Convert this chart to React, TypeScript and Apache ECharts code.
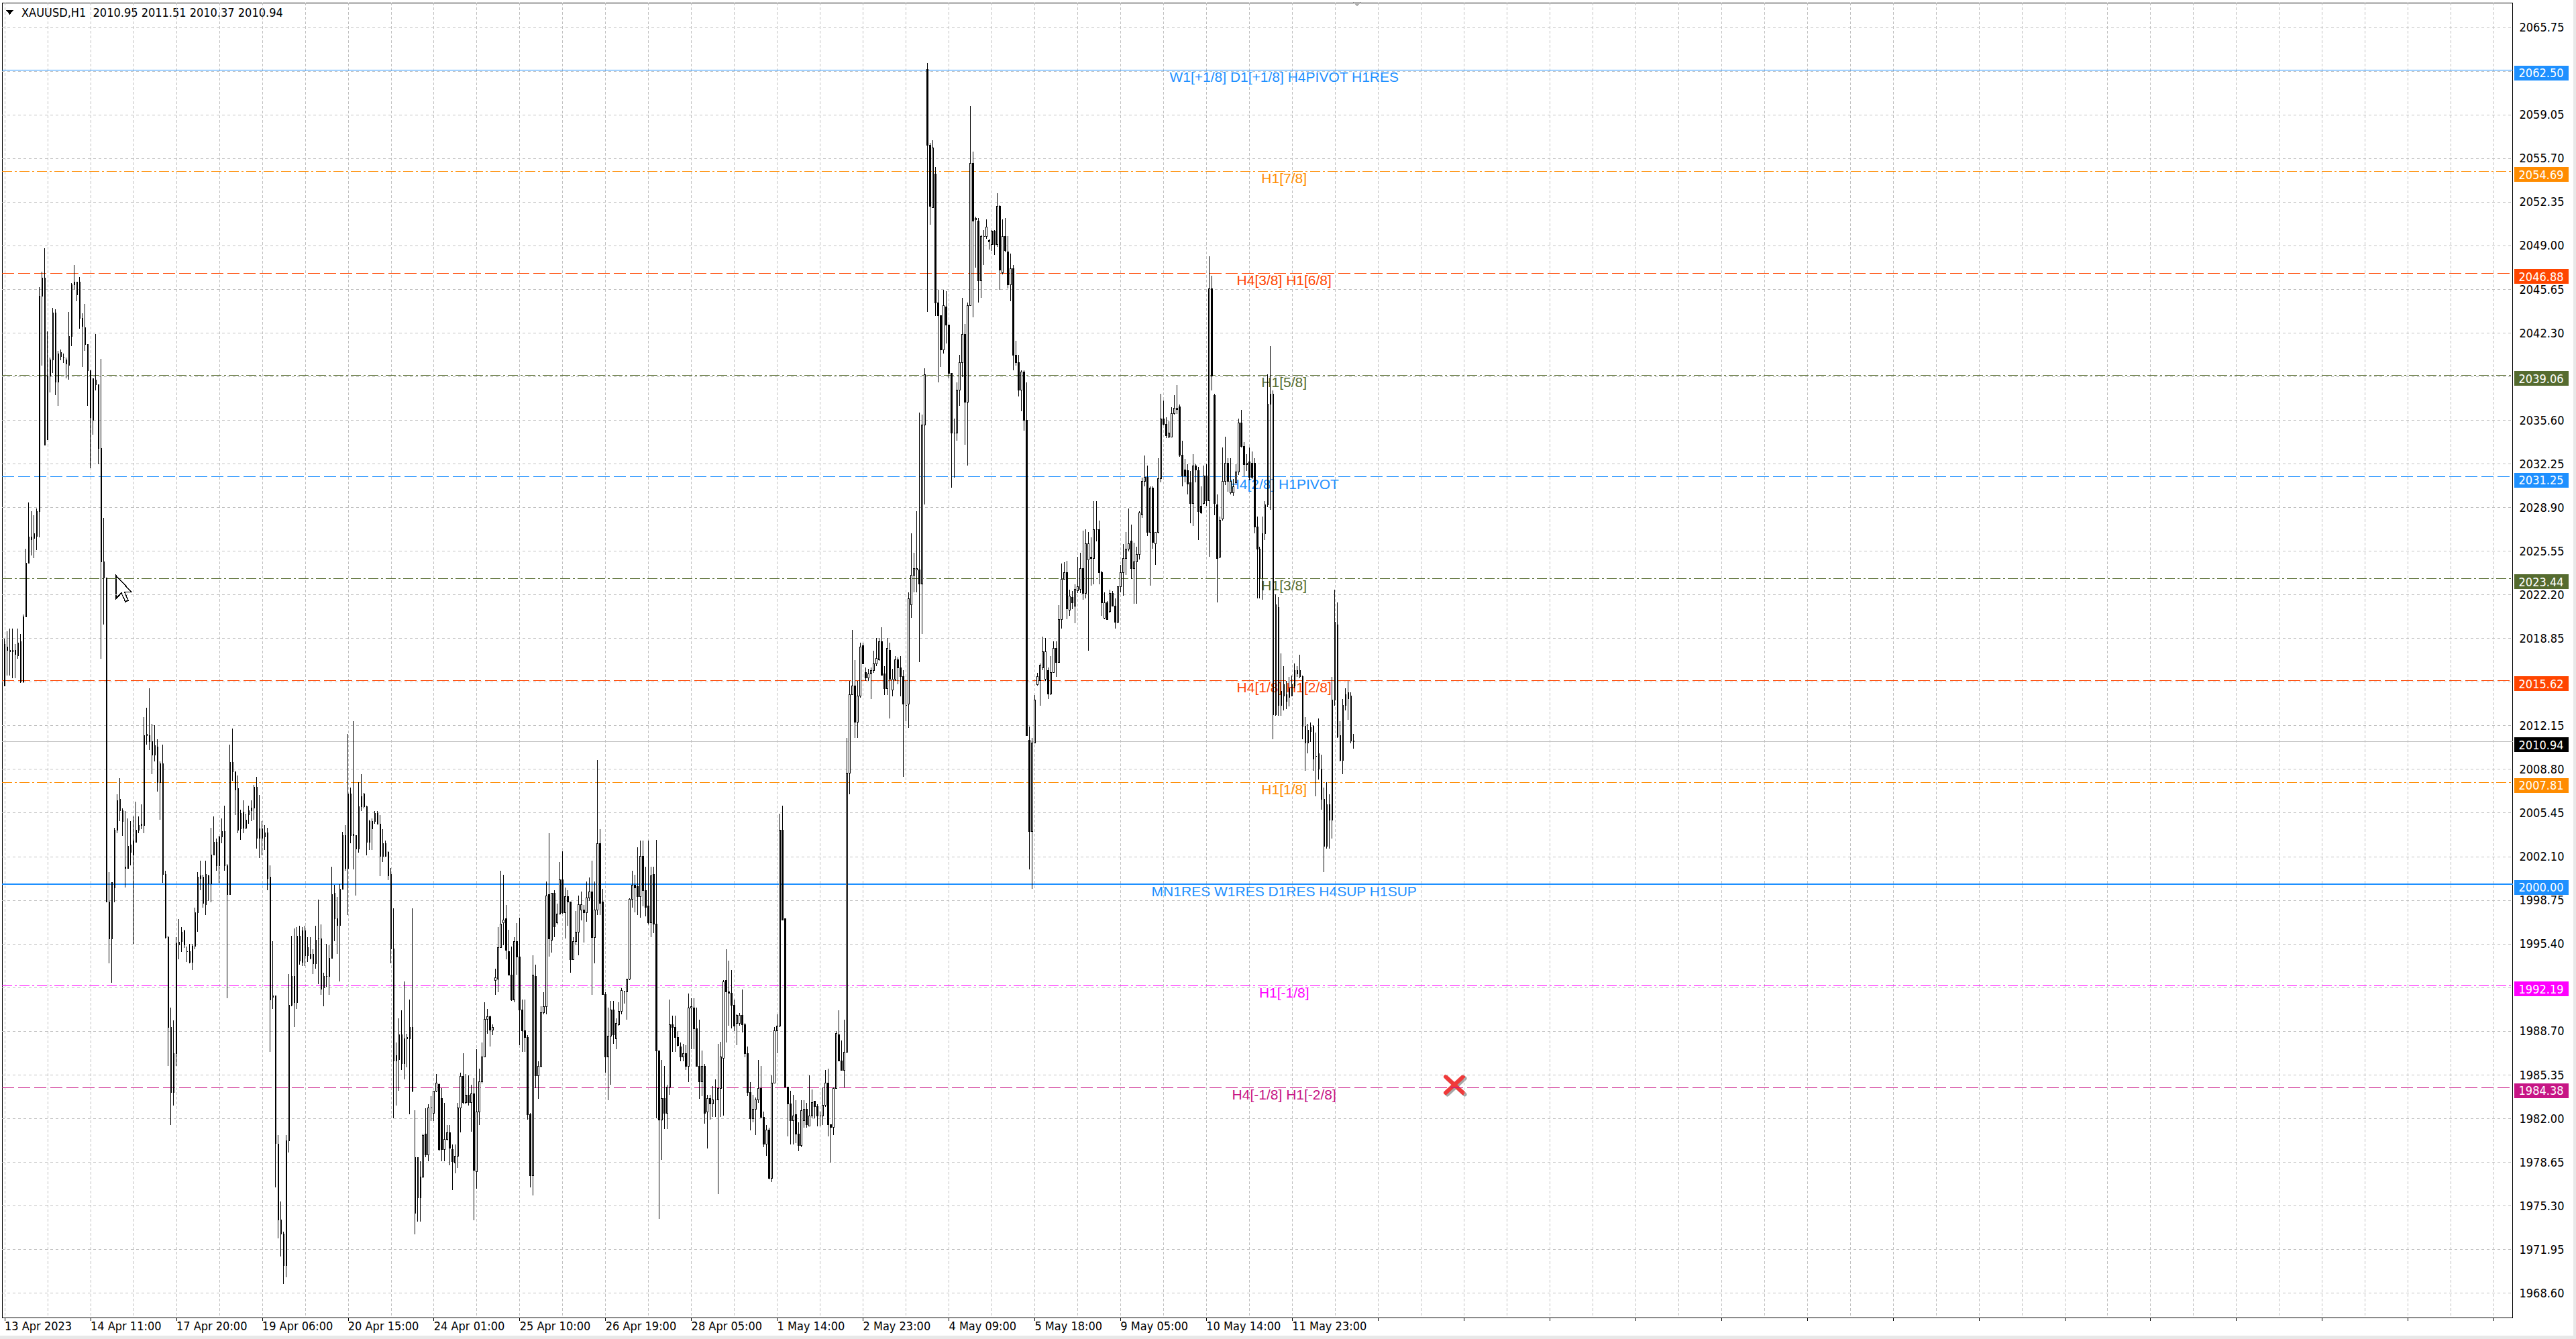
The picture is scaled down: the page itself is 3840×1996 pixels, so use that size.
import { useEffect, useRef } from "react";
import * as echarts from "echarts";

// ---------- data ----------
const SYMBOL = "XAUUSD,H1";

const DATE_LABELS = [
  "13 Apr 2023", "14 Apr 11:00", "17 Apr 20:00", "19 Apr 06:00", "20 Apr 15:00",
  "24 Apr 01:00", "25 Apr 10:00", "26 Apr 19:00", "28 Apr 05:00", "1 May 14:00",
  "2 May 23:00", "4 May 09:00", "5 May 18:00", "9 May 05:00", "10 May 14:00", "11 May 23:00",
];

const PRICE_TICKS = [
  "1968.60", "1971.95", "1975.30", "1978.65", "1982.00", "1985.35", "1988.70", "1992.05",
  "1995.40", "1998.75", "2002.10", "2005.45", "2008.80", "2012.15", "2015.50", "2018.85",
  "2022.20", "2025.55", "2028.90", "2032.25", "2035.60", "2038.95", "2042.30", "2045.65",
  "2049.00", "2052.35", "2055.70", "2059.05", "2062.40", "2065.75",
];

const LEVEL_PRICES = [2062.5, 2054.69, 2046.88, 2039.06, 2031.25, 2023.44, 2015.62, 2007.81, 2000.0, 1992.19, 1984.38];
const LEVEL_TEXTS = [
  "W1[+1/8] D1[+1/8] H4PIVOT H1RES", "H1[7/8]", "H4[3/8] H1[6/8]", "H1[5/8]", "H4[2/8] H1PIVOT",
  "H1[3/8]", "H4[1/8] H1[2/8]", "H1[1/8]", "MN1RES W1RES D1RES H4SUP H1SUP", "H1[-1/8]", "H4[-1/8] H1[-2/8]",
];

// [open, high, low, close]
const BARS_1 = [
  [2015.2,2018.8,2015.2,2018.4],[2018.2,2019.4,2016.0,2017.9],[2017.9,2019.6,2016.0,2017.8],[2017.8,2019.6,2015.8,2017.9],
  [2017.9,2018.4,2015.8,2017.6],[2017.5,2019.6,2017.3,2018.5],[2018.6,2019.2,2015.4,2015.5],[2015.5,2020.7,2015.4,2020.5],
  [2020.5,2025.7,2020.5,2024.6],[2024.6,2029.3,2024.6,2026.6],[2026.6,2028.6,2025.2,2026.4],[2026.5,2028.3,2025.0,2026.9],
  [2026.7,2028.8,2025.6,2028.6],[2028.6,2045.8,2026.6,2045.1],[2045.1,2047.0,2039.8,2046.5],[2046.5,2048.8,2033.7,2033.7],
  [2034.1,2042.4,2034.1,2039.0],[2039.0,2040.4,2037.7,2040.2],[2040.2,2044.2,2039.2,2043.8],[2043.8,2044.1,2037.5,2038.5],
  [2038.5,2040.9,2036.7,2040.7],[2040.5,2041.0,2040.2,2040.8],[2040.4,2040.7,2040.0,2040.4],[2040.2,2040.4,2038.8,2039.9],
  [2039.8,2043.9,2038.7,2042.0],[2042.0,2046.1,2041.3,2046.0],[2046.0,2047.5,2045.6,2046.2],[2046.2,2046.2,2044.7,2045.2],
  [2046.2,2046.6,2042.6,2043.4],[2043.4,2043.8,2039.7,2042.8],[2042.7,2044.5,2040.9,2041.4],[2041.4,2041.4,2036.7,2039.4],
  [2039.4,2039.4,2031.9,2035.8],[2035.6,2038.8,2034.5,2038.8],[2038.7,2042.2,2037.9,2038.3],[2038.3,2038.3,2032.2,2033.4],
  [2033.4,2040.3,2017.3,2024.7],[2024.7,2028.1,2019.9,2023.5],[2023.5,2023.5,1998.6,1998.6],[1998.6,2000.9,1993.9,1995.8],
  [1995.8,2000.1,1992.4,2000.1],[1999.7,2004.3,1998.6,2004.1],[2004.1,2006.9,2003.9,2006.4],[2006.5,2008.1,2004.8,2005.6],
  [2005.6,2005.8,2003.7,2004.8],[2001.2,2005.6,1999.7,2001.3],[2001.2,2005.0,2001.2,2002.9],[2003.0,2004.8,2001.4,2002.4],
  [2002.2,2005.2,1995.4,2003.3],[2003.2,2006.3,2003.2,2004.1],[2004.1,2005.2,2003.9,2004.5],[2004.5,2006.1,2004.2,2004.6],
  [2004.5,2012.8,2003.9,2011.4],[2011.4,2013.5,2010.7,2011.5],[2011.4,2015.0,2010.3,2010.9],[2010.9,2012.3,2008.4,2009.9],
  [2009.9,2012.2,2009.4,2010.6],[2010.5,2011.1,2007.1,2007.8],[2007.8,2009.4,2004.9,2009.2],[2009.2,2010.7,2000.1,2000.7],
  [2000.7,2001.0,1995.8,1995.9],[1995.9,1996.0,1986.0,1989.0],[1989.0,1990.5,1981.5,1984.0],[1984.0,1989.5,1983.0,1987.0],
  [1987.0,1995.9,1986.0,1995.4],[1995.3,1997.3,1994.2,1995.5],[1995.6,1996.7,1994.8,1996.3],[1996.4,1996.5,1995.1,1995.3],
  [1994.8,1995.2,1994.0,1994.8],[1994.8,1995.4,1993.9,1994.0],[1994.0,1995.4,1993.4,1995.2],[1995.2,1998.2,1995.0,1997.8],
  [1997.8,2000.9,1996.3,2000.5],[2000.4,2001.8,1999.5,2000.6],[2000.5,2000.7,1998.2,1998.5],[1998.4,2001.8,1997.6,2000.7],
  [2000.6,2000.7,1998.7,2000.0],[2000.0,2004.3,1998.6,2002.2],[2002.2,2005.2,2002.2,2003.2],[2003.2,2003.5,2001.0,2001.4],
  [2001.4,2003.7,2000.1,2003.6],[2003.6,2005.0,2003.1,2004.0],[2004.0,2006.0,2001.0,2001.4],[2001.4,2001.5,1991.2,1999.2],
];

const BARS_2 = [
  [1999.2,2010.7,1999.2,2009.3],[2009.3,2011.9,2007.9,2008.6],[2008.6,2008.6,2005.3,2007.2],[2007.3,2008.3,2003.9,2004.1],
  [2004.2,2005.7,2003.4,2005.4],[2005.5,2006.4,2003.9,2004.3],[2004.3,2005.4,2004.2,2004.9],[2005.3,2006.0,2004.6,2005.6],
  [2005.6,2006.4,2004.8,2005.8],[2005.8,2007.6,2004.9,2007.4],[2007.4,2008.2,2002.7,2003.5],[2003.5,2006.8,2002.0,2004.2],
  [2004.2,2004.8,2002.2,2003.5],[2003.6,2004.5,2002.6,2003.9],[2003.9,2004.3,1999.5,2000.4],[2000.5,2001.4,1987.1,1991.1],
  [1991.3,1995.6,1990.4,1991.4],[1991.4,1991.4,1976.7,1980.1],[1980.0,1980.7,1972.8,1974.2],[1974.2,1975.6,1971.4,1973.1],
  [1973.1,1973.3,1969.3,1970.7],[1970.7,1980.7,1969.8,1980.3],[1980.3,1993.1,1979.4,1990.7],[1990.7,1996.0,1990.6,1992.9],
  [1992.9,1996.6,1989.0,1990.9],[1990.9,1996.7,1990.4,1996.0],[1996.0,1996.8,1993.8,1994.1],[1994.0,1996.7,1993.7,1996.4],
  [1996.4,1996.8,1993.7,1994.5],[1994.5,1995.9,1994.0,1995.1],[1994.3,1995.9,1994.2,1994.6],[1994.6,1995.0,1993.1,1993.9],
  [1993.9,1996.8,1993.5,1995.7],[1995.8,1998.8,1992.3,1995.8],[1995.8,1996.9,1991.5,1991.9],[1992.0,1993.2,1990.6,1992.9],
  [1992.9,1995.4,1992.1,1992.9],[1992.9,1995.3,1991.5,1994.3],[1994.3,2001.3,1994.3,1999.2],[1999.3,1999.9,1995.6,1997.3],
  [1997.3,1999.0,1994.6,1996.8],[1996.8,2000.0,1992.5,1999.6],[1999.6,2004.0,1999.6,2003.7],[2003.7,2004.5,2001.0,2001.2],
  [2001.2,2011.5,1997.6,2006.9],[2006.9,2007.4,2003.1,2003.7],[2003.7,2012.5,2001.1,2003.8],[2003.7,2003.7,1999.1,2002.7],
  [2002.7,2007.8,2002.4,2005.9],[2005.9,2008.4,2005.6,2006.7],[2006.9,2007.0,2005.8,2005.9],[2005.9,2006.0,2002.2,2003.2],
  [2004.8,2004.9,2002.6,2003.2],[2004.2,2005.0,2002.6,2004.8],[2004.8,2005.6,2004.6,2005.4],[2005.4,2005.6,2004.6,2004.6],
  [2004.6,2005.3,2000.6,2002.1],[2003.1,2004.2,2001.7,2002.1],[2002.1,2003.3,2002.1,2003.1],[2002.4,2002.5,2000.3,2000.6],
  [2000.7,2001.2,1993.9,1995.0],[1995.0,1998.1,1982.0,1986.4],[1986.4,1987.8,1983.0,1986.8],[1986.5,1989.7,1984.1,1988.4],
  [1988.4,1990.3,1985.7,1986.2],[1986.2,1992.5,1985.0,1988.1],[1988.1,1988.5,1985.9,1988.2],[1988.1,1991.1,1982.3,1989.0],
  [1989.0,1998.1,1984.0,1984.1],[1974.7,1982.6,1973.1,1979.0],[1979.0,1979.0,1974.1,1975.9],[1975.9,1978.7,1974.1,1977.5],
  [1977.5,1980.8,1977.4,1980.7],[1980.8,1982.8,1979.0,1979.2],[1979.2,1983.1,1978.7,1982.8],[1982.8,1983.7,1981.8,1982.8],
  [1982.4,1984.1,1981.8,1984.1],[1984.1,1985.4,1984.0,1984.7],[1984.6,1984.7,1979.5,1979.6],[1983.5,1984.3,1978.7,1979.6],
  [1979.6,1983.2,1978.7,1980.4],[1980.4,1981.5,1980.3,1980.9],[1980.9,1981.5,1978.4,1979.7],[1979.6,1980.0,1976.5,1978.7],
];

const BARS_3 = [
  [1978.6,1980.0,1977.8,1979.1],[1979.1,1983.2,1978.2,1982.8],[1982.8,1985.5,1980.9,1985.2],[1985.2,1987.0,1983.1,1983.2],
  [1983.2,1985.4,1983.1,1983.8],[1983.8,1985.3,1983.0,1983.2],[1983.2,1984.6,1981.0,1983.9],[1983.9,1985.1,1974.2,1978.0],
  [1977.9,1987.3,1976.6,1982.5],[1982.5,1985.8,1981.5,1984.8],[1984.8,1987.8,1984.7,1986.7],[1986.7,1990.9,1986.7,1989.6],
  [1989.6,1990.4,1988.5,1989.8],[1989.8,1989.9,1987.5,1988.8],[1988.8,1989.2,1988.4,1989.0],[1992.6,1993.5,1991.5,1992.8],
  [1992.7,1996.7,1991.7,1995.1],[1995.1,2001.0,1995.1,1996.9],[1997.0,2000.7,1995.3,1997.2],[1997.3,1998.4,1994.2,1994.9],
  [1994.8,1996.5,1993.0,1993.0],[1993.0,1995.2,1991.0,1991.1],[1991.1,1995.9,1990.9,1995.6],[1995.6,1997.0,1993.0,1994.4],
  [1994.4,1997.4,1987.6,1990.3],[1990.3,1991.1,1987.1,1988.7],[1988.7,1991.1,1987.1,1988.2],[1988.2,1988.4,1981.9,1982.3],
  [1982.3,1982.4,1976.7,1977.6],[1977.6,1994.5,1976.1,1993.0],[1992.9,1993.8,1984.3,1985.3],[1985.3,1986.4,1983.5,1986.0],
  [1986.0,1990.6,1985.9,1990.1],[1990.1,1991.7,1990.0,1990.6],[1990.6,2000.2,1990.0,1999.1],[1999.2,2003.9,1994.4,1995.8],
  [1995.7,1999.3,1994.7,1999.3],[1999.3,1999.5,1995.9,1996.7],[1997.0,1998.5,1996.9,1997.7],[1997.7,2001.7,1997.7,2000.3],
  [2000.3,2002.5,1997.7,1997.8],[1997.8,1999.7,1995.8,1999.0],[1999.0,1999.5,1996.8,1998.6],[1998.6,1998.6,1993.2,1994.2],
  [1994.2,1995.9,1994.2,1995.6],[1995.6,1997.9,1995.3,1996.3],[1996.3,1999.1,1994.5,1998.4],[1998.0,1999.4,1997.2,1998.4],
  [1998.0,1998.4,1995.5,1997.8],[1997.8,2000.2,1997.1,1998.9],[1998.9,2000.5,1998.7,1999.4],[1999.4,2001.8,1991.5,1995.9],
  [1995.9,2000.2,1993.9,1998.0],[1998.0,2009.5,1997.6,2003.1],[2003.1,2004.2,1997.6,1998.5],[1998.6,1999.6,1991.5,1991.5],
  [1991.5,1991.7,1985.5,1986.7],[1986.7,1990.5,1983.4,1988.3],[1988.3,1991.0,1984.6,1990.3],[1990.3,1991.0,1987.7,1988.4],
  [1988.1,1989.7,1987.3,1989.3],[1989.2,1990.9,1989.1,1990.2],[1990.2,1992.0,1990.0,1991.8],[1991.7,1991.8,1990.8,1991.7],
  [1991.7,1992.7,1989.6,1992.7],[1992.7,1998.9,1992.6,1998.8],[1998.8,2001.0,1998.2,1999.9],[1999.9,2000.7,1997.8,1999.7],
  [1999.8,2002.8,1997.6,1999.0],[1999.0,2003.3,1997.4,2002.1],[2002.1,2003.3,1998.3,1999.5],[1999.5,2001.3,1997.5,1998.2],
  [1998.3,2003.3,1996.9,1997.0],[1997.0,2001.3,1995.9,2000.6],[2000.7,2001.3,1996.2,1996.9],[1996.9,2003.4,1982.0,1987.2],
  [1987.2,1987.2,1974.3,1981.9],[1981.9,1986.5,1978.8,1983.5],[1983.5,1986.0,1981.2,1982.4],[1982.4,1984.6,1981.2,1984.4],
  [1984.4,1991.1,1983.8,1989.2],[1989.2,1989.9,1987.1,1989.0],[1989.0,1989.9,1987.1,1988.2],[1988.2,1988.7,1987.5,1987.6],
];

const BARS_4 = [
  [1987.5,1987.8,1986.4,1986.7],[1986.7,1987.7,1986.4,1987.0],[1987.0,1987.6,1985.7,1986.0],[1986.0,1991.6,1984.8,1990.5],
  [1990.5,1991.2,1987.3,1990.6],[1990.5,1991.2,1987.3,1988.9],[1988.9,1990.5,1986.0,1986.0],[1986.0,1989.6,1983.5,1984.8],
  [1984.8,1987.2,1983.7,1986.0],[1986.0,1986.2,1981.6,1982.4],[1982.5,1983.8,1979.7,1983.5],[1983.5,1983.8,1981.9,1983.1],
  [1983.1,1984.5,1982.1,1983.4],[1983.4,1985.0,1982.1,1983.4],[1983.4,1987.7,1976.2,1984.3],[1984.3,1987.9,1982.1,1986.7],
  [1986.6,1992.6,1982.2,1992.5],[1992.6,1995.0,1987.8,1991.7],[1991.7,1994.1,1989.1,1991.6],[1991.6,1993.4,1988.9,1990.7],
  [1990.7,1991.1,1988.7,1989.1],[1989.3,1990.0,1987.6,1989.9],[1989.3,1990.1,1989.1,1989.9],[1989.9,1991.9,1988.6,1989.2],
  [1989.2,1989.3,1986.7,1987.0],[1987.0,1987.5,1983.7,1984.0],[1984.0,1984.8,1981.1,1982.0],[1982.0,1983.8,1981.7,1982.7],
  [1982.7,1983.6,1980.7,1983.4],[1983.4,1986.5,1983.2,1984.3],[1984.3,1986.0,1982.0,1982.1],[1982.1,1982.5,1979.8,1980.0],
  [1980.0,1981.5,1979.1,1981.1],[1981.1,1981.3,1977.3,1977.4],[1977.4,1985.3,1977.1,1984.7],[1984.7,1989.0,1984.7,1988.7],
  [1988.7,1990.0,1987.0,1989.1],[1989.1,2005.4,1989.0,2004.1],[2004.1,2006.0,1997.2,1997.2],[1997.3,1997.3,1984.4,1984.4],
  [1984.4,1984.4,1980.6,1983.1],[1983.1,1984.1,1980.0,1981.8],[1981.8,1983.8,1980.0,1982.2],[1982.3,1983.4,1980.1,1980.8],
  [1980.8,1981.7,1979.5,1979.9],[1979.9,1983.4,1979.8,1982.6],[1981.8,1983.4,1981.3,1982.7],[1982.7,1983.2,1981.3,1981.5],
  [1981.4,1985.3,1981.4,1982.2],[1982.2,1984.2,1982.0,1983.2],[1983.3,1983.3,1982.0,1982.9],[1982.9,1983.1,1981.4,1982.2],
  [1982.2,1982.5,1981.4,1982.2],[1982.2,1984.4,1981.5,1983.0],[1983.0,1985.7,1982.9,1984.7],[1984.7,1985.8,1980.6,1981.5],
  [1981.5,1981.5,1978.6,1981.3],[1981.3,1984.4,1980.7,1984.3],[1984.3,1988.7,1984.3,1988.5],[1988.4,1990.3,1986.4,1986.4],
  [1986.4,1988.0,1985.7,1985.7],[1985.7,1989.6,1984.4,1987.1],[1987.1,2011.2,1987.1,2008.5],[2008.5,2015.6,2006.9,2014.5],
  [2014.5,2019.5,2014.5,2015.2],[2015.2,2017.2,2011.2,2012.4],[2012.4,2015.6,2011.2,2014.4],[2014.4,2018.5,2014.3,2018.2],
  [2018.3,2018.5,2016.9,2016.9],[2016.2,2016.6,2015.6,2015.8],[2015.8,2016.5,2015.6,2016.1],[2016.1,2016.6,2014.2,2016.4],
  [2016.4,2017.9,2016.2,2016.9],[2016.9,2018.9,2016.7,2017.3],[2017.2,2018.9,2017.1,2018.6],[2018.6,2019.7,2016.0,2016.0],
  [2016.1,2016.7,2014.5,2015.0],[2015.0,2018.9,2014.5,2018.1],[2017.9,2018.5,2012.7,2015.7],[2014.9,2016.5,2014.4,2015.7],
  [2015.7,2017.5,2015.6,2017.2],[2017.2,2017.4,2015.3,2016.6],[2016.6,2017.5,2014.4,2015.9],[2015.9,2016.4,2008.2,2013.8],
];

const BARS_5 = [
  [2013.7,2015.6,2012.5,2013.7],[2013.8,2022.4,2012.0,2021.9],[2021.4,2026.9,2020.4,2023.7],[2023.7,2025.4,2022.4,2024.2],
  [2024.1,2028.6,2022.4,2024.2],[2024.1,2036.2,2017.0,2023.0],[2023.0,2036.0,2019.2,2035.2],[2035.2,2039.6,2029.1,2039.1],
  [2062.5,2063.0,2043.9,2056.7],[2056.7,2056.9,2050.6,2052.0],[2051.9,2057.1,2051.9,2056.5],[2054.5,2055.0,2043.6,2044.6],
  [2044.6,2045.6,2038.5,2043.6],[2043.6,2043.6,2039.7,2041.0],[2041.0,2045.6,2040.7,2044.4],[2044.3,2045.5,2041.5,2042.9],
  [2042.9,2042.9,2038.8,2039.2],[2039.2,2039.2,2030.4,2034.6],[2034.6,2035.7,2031.2,2034.6],[2034.6,2038.5,2034.0,2037.9],
  [2037.9,2040.6,2036.7,2040.0],[2040.0,2045.0,2038.9,2042.2],[2042.2,2043.0,2033.7,2037.0],[2037.0,2044.6,2032.1,2044.4],
  [2044.4,2059.7,2044.4,2055.3],[2055.3,2056.2,2043.5,2050.9],[2051.0,2051.2,2047.3,2051.1],[2050.9,2051.1,2044.6,2046.3],
  [2046.3,2049.8,2045.0,2049.7],[2049.7,2050.2,2047.5,2049.7],[2049.7,2051.0,2049.5,2050.4],[2049.3,2049.5,2048.7,2049.4],
  [2049.1,2050.2,2048.6,2050.1],[2050.1,2050.2,2048.3,2049.1],[2049.1,2053.0,2048.9,2052.0],[2052.0,2052.1,2045.6,2047.1],
  [2046.9,2051.0,2046.8,2049.7],[2049.7,2051.1,2048.5,2048.6],[2048.5,2049.7,2045.7,2046.0],[2046.0,2048.4,2044.7,2047.2],
  [2047.2,2047.5,2039.4,2040.6],[2040.6,2041.7,2039.8,2040.0],[2040.0,2040.6,2037.4,2037.9],[2037.9,2039.4,2036.3,2039.3],
  [2039.3,2039.4,2034.8,2035.6],[2035.6,2038.5,2011.4,2011.4],[2011.0,2012.1,2001.1,2004.0],[2004.0,2011.2,1999.6,2010.8],
  [2010.8,2014.5,2010.8,2014.1],[2015.3,2016.2,2015.2,2015.9],[2015.6,2016.9,2013.7,2016.8],[2016.6,2019.0,2016.4,2017.8],
  [2015.7,2018.9,2015.6,2017.8],[2016.4,2016.6,2014.2,2014.6],[2014.6,2017.5,2014.5,2016.2],[2016.2,2018.6,2016.2,2018.1],
  [2018.1,2018.6,2015.9,2017.0],[2017.0,2021.4,2017.0,2020.3],[2020.3,2024.6,2019.6,2023.4],[2023.4,2024.7,2023.4,2023.9],
  [2023.9,2024.8,2020.3,2021.1],[2021.0,2022.6,2020.6,2022.1],[2022.0,2022.5,2021.1,2021.6],[2021.3,2023.0,2020.0,2022.6],
  [2022.5,2025.1,2022.3,2022.8],[2022.6,2025.4,2022.3,2024.2],[2024.2,2027.1,2021.8,2022.3],[2022.3,2027.2,2021.9,2026.1],
  [2024.9,2027.0,2017.9,2026.1],[2025.1,2026.6,2022.9,2025.0],[2025.0,2029.4,2023.0,2027.2],[2027.2,2029.4,2026.3,2027.2],
  [2027.2,2027.9,2023.0,2023.9],[2023.9,2024.0,2020.6,2021.6],[2020.4,2022.4,2020.3,2021.6],[2021.6,2021.7,2020.3,2020.3],
  [2020.9,2022.6,2020.8,2022.3],[2022.3,2022.5,2021.3,2021.3],[2021.3,2021.9,2019.6,2020.1],[2020.1,2022.8,2020.0,2022.8],
  [2022.8,2024.5,2022.4,2023.9],[2023.9,2026.1,2022.1,2025.0],[2025.0,2027.0,2023.7,2025.7],[2025.7,2028.8,2025.5,2026.1],
];

const BARS_6 = [
  [2026.3,2027.6,2023.4,2024.2],[2024.2,2026.2,2021.5,2024.7],[2024.7,2025.9,2021.5,2025.3],[2025.3,2028.6,2024.9,2028.5],
  [2028.3,2031.2,2028.1,2030.9],[2030.9,2032.9,2030.5,2031.2],[2031.2,2032.1,2026.7,2027.0],[2027.0,2030.5,2022.9,2030.4],
  [2030.4,2030.5,2025.7,2026.2],[2026.1,2027.0,2024.5,2027.0],[2027.0,2032.7,2026.9,2031.1],[2031.1,2037.6,2030.8,2035.7],
  [2035.7,2037.1,2035.2,2035.3],[2035.3,2035.8,2034.2,2034.4],[2034.3,2035.5,2034.2,2034.6],[2034.3,2036.6,2034.3,2036.1],
  [2036.1,2037.5,2036.0,2036.5],[2036.4,2038.3,2036.1,2036.5],[2036.6,2036.8,2032.8,2032.9],[2032.9,2034.0,2030.5,2031.3],
  [2031.8,2032.6,2030.8,2031.3],[2031.7,2032.2,2029.9,2030.7],[2030.8,2031.7,2027.7,2029.2],[2029.2,2033.0,2027.5,2032.1],
  [2032.1,2032.2,2030.8,2031.8],[2031.7,2032.0,2026.4,2028.6],[2029.0,2030.5,2028.4,2028.5],[2029.2,2032.1,2029.1,2031.3],
  [2031.3,2032.2,2029.0,2029.4],[2029.4,2048.2,2025.1,2045.7],[2045.7,2046.7,2037.9,2039.0],[2037.5,2037.6,2028.3,2029.2],
  [2029.1,2029.9,2021.6,2025.0],[2025.1,2028.2,2025.0,2027.9],[2028.0,2033.5,2027.9,2030.9],[2030.9,2034.3,2030.6,2032.3],
  [2032.3,2032.7,2030.1,2030.9],[2030.0,2032.7,2029.9,2030.9],[2030.0,2031.1,2029.8,2030.5],[2030.8,2032.2,2030.7,2031.6],
  [2031.6,2035.7,2031.4,2035.4],[2035.4,2036.4,2033.5,2033.6],[2033.6,2033.9,2031.3,2032.2],[2032.2,2033.0,2031.7,2032.3],
  [2032.4,2033.5,2031.0,2031.2],[2032.3,2033.2,2031.1,2031.2],[2032.3,2032.7,2026.9,2027.4],[2027.4,2028.2,2021.9,2025.7],
  [2025.7,2025.9,2021.9,2023.5],[2023.5,2028.2,2021.8,2026.9],[2026.9,2029.4,2026.4,2029.1],[2029.1,2039.1,2028.9,2036.8],
  [2036.8,2041.3,2028.7,2037.6],[2037.6,2037.9,2011.1,2013.0],[2013.0,2022.2,2012.9,2021.4],[2021.2,2022.0,2012.9,2013.7],
  [2013.7,2017.7,2012.9,2014.8],[2015.3,2016.7,2013.3,2014.4],[2014.0,2015.6,2013.4,2014.5],[2015.0,2015.9,2013.6,2014.3],
  [2014.4,2016.0,2014.4,2015.3],[2015.2,2016.9,2015.0,2016.4],[2016.1,2016.7,2015.9,2016.4],[2015.9,2017.6,2015.8,2016.4],
  [2015.9,2016.0,2011.1,2012.1],[2012.1,2012.8,2008.7,2010.8],[2010.8,2012.3,2010.0,2011.8],[2011.7,2012.4,2010.9,2012.0],
  [2012.1,2012.2,2008.7,2009.6],[2009.8,2011.6,2006.7,2009.8],[2008.8,2012.7,2008.0,2010.0],[2008.8,2009.9,2005.7,2006.5],
  [2006.5,2007.4,2000.9,2002.9],[2002.9,2007.8,2002.7,2006.1],[2006.1,2006.9,2002.7,2004.9],[2004.9,2015.9,2003.5,2014.1],
  [2014.1,2022.6,2013.7,2020.1],[2019.9,2021.6,2011.2,2011.3],[2011.4,2012.5,2009.4,2009.5],[2009.5,2014.2,2008.4,2013.7],
  [2013.7,2015.0,2013.3,2014.5],[2014.2,2015.6,2012.6,2014.7],[2014.4,2014.7,2010.8,2010.95],[2010.95,2011.51,2010.37,2010.94],
];

// ---------- layout / style constants ----------
const W = 3840;
const H = 1996;
const GRID_LEFT = 1.5;
const GRID_RIGHT_EDGE = 3745.5;
const GRID_TOP = 4;
const GRID_BOTTOM_EDGE = 1964;
const BAR_STEP_PX = 4;
const CAT_COUNT = Math.round((GRID_RIGHT_EDGE - GRID_LEFT) / BAR_STEP_PX) + 1; // 937
const BAR_OFFSET = 1; // first bar sits on category 1
const LABEL_EVERY = 32;
const GRID_EVERY = 16;
const LABEL_ANCHOR_CAT = 478;
const TAG_W = 81;
const TAG_H = 22;
const TAG_OFFSET: [number, number] = [2 + TAG_W / 2, 5];

const Y_MIN = 1966.712;
const Y_MAX = 2067.64;

const LEVEL_COLORS = ["#1e90ff", "#ff8c00", "#ff4500", "#556b2f", "#1e90ff", "#556b2f", "#ff4500", "#ff8c00", "#1e90ff", "#ff00ff", "#c71585"];
const DASHED = [18, 6];
const DASHDOT = [15, 4, 3, 4];
const LEVEL_TYPES: any[] = ["solid", DASHDOT, DASHED, DASHDOT, DASHED, DASHDOT, DASHED, DASHDOT, "solid", DASHDOT, DASHED];
const LEVEL_WIDTHS = [1, 1, 1, 1, 1, 1, 1, 1, 2, 1, 1];

const AXIS_FONT = '"DejaVu Sans Condensed", "Liberation Sans", Arial, sans-serif';
const LABEL_FONT = '"Liberation Sans", Arial, sans-serif';

const X_ICON =
  "data:image/svg+xml;utf8," +
  encodeURIComponent(
    "<svg xmlns='http://www.w3.org/2000/svg' width='40' height='40'>" +
      "<g fill='none' stroke-linecap='round' stroke-width='6'>" +
      "<path d='M6 6 L32 30 M32 6 L6 30' stroke='rgba(0,0,0,0.35)' transform='translate(2.5,2.5)'/>" +
      "<path d='M6 6 L32 30 M32 6 L6 30' stroke='#f03a3a'/>" +
      "</g></svg>"
  );

export default function App() {
  const ref = useRef<HTMLDivElement>(null);

  useEffect(() => {
    document.body.style.margin = "0";
    if (!ref.current) return;
    const chart = echarts.init(ref.current, null, { renderer: "svg", width: W, height: H });

    const bars = [...BARS_1, ...BARS_2, ...BARS_3, ...BARS_4, ...BARS_5, ...BARS_6];
    const candleData = bars.map((b, i) => {
      const [o, h, l, c] = b;
      return [i + BAR_OFFSET, o, c, Math.min(l, o, c), Math.max(h, o, c)];
    });
    const last = bars[bars.length - 1];
    const categories = Array.from({ length: CAT_COUNT }, (_, i) => String(i));
    const tickValues = PRICE_TICKS.map(Number);

    const levelLines = LEVEL_PRICES.map((p, k) => ({
      yAxis: p,
      lineStyle: { color: LEVEL_COLORS[k], type: LEVEL_TYPES[k], width: LEVEL_WIDTHS[k], opacity: 1 },
    }));
    const priceLine = {
      yAxis: last[3],
      lineStyle: { color: "#c0c0c0", type: "solid", width: 1, opacity: 1 },
    };

    const tag = (price: number, bg: string) => ({
      coord: [CAT_COUNT - 1, price],
      symbol: "rect",
      symbolSize: [TAG_W, TAG_H],
      symbolOffset: TAG_OFFSET,
      itemStyle: { color: bg },
      label: {
        show: true,
        position: "inside",
        formatter: price.toFixed(2),
        color: "#ffffff",
        fontSize: 18,
        fontFamily: AXIS_FONT,
      },
    });
    const tags = [...LEVEL_PRICES.map((p, k) => tag(p, LEVEL_COLORS[k])), tag(last[3], "#000000")];

    const levelTexts = LEVEL_PRICES.map((p, k) => ({
      coord: [LABEL_ANCHOR_CAT, p],
      symbol: "circle",
      symbolSize: 0.01,
      itemStyle: { color: "rgba(0,0,0,0)" },
      label: {
        show: true,
        position: "bottom",
        distance: 0,
        formatter: LEVEL_TEXTS[k],
        color: LEVEL_COLORS[k],
        fontSize: 21,
        fontFamily: LABEL_FONT,
      },
    }));

    const gridLines = tickValues.map((v) => ({ yAxis: v }));

    const isOn = (idx: number, every: number) => idx >= BAR_OFFSET && (idx - BAR_OFFSET) % every === 0;

    const header = `${SYMBOL}  ${last.map((v) => v.toFixed(2)).join(" ")}`;

    chart.setOption({
      animation: false,
      backgroundColor: "#ffffff",
      grid: {
        left: GRID_LEFT,
        right: W - GRID_RIGHT_EDGE,
        top: GRID_TOP,
        bottom: H - GRID_BOTTOM_EDGE,
        show: true,
        borderColor: "#000000",
        borderWidth: 1,
        backgroundColor: "transparent",
      },
      xAxis: {
        type: "category",
        data: categories,
        boundaryGap: false,
        axisLine: { show: false },
        axisTick: {
          show: true,
          interval: (idx: number) => isOn(idx, LABEL_EVERY),
          length: 5,
          lineStyle: { color: "#000000" },
        },
        axisLabel: {
          show: true,
          interval: 0,
          align: "left",
          margin: 3,
          fontSize: 18,
          fontFamily: AXIS_FONT,
          color: "#000000",
          formatter: (_v: string, idx: number) => {
            if (!isOn(idx, LABEL_EVERY)) return "";
            const k = (idx - BAR_OFFSET) / LABEL_EVERY;
            return DATE_LABELS[k] ?? "";
          },
        },
        splitLine: {
          show: true,
          interval: (idx: number) => isOn(idx, GRID_EVERY),
          lineStyle: { color: "#c0c0c0", type: [4, 3], width: 1 },
        },
      },
      yAxis: {
        type: "value",
        position: "right",
        min: Y_MIN,
        max: Y_MAX,
        axisLine: { show: false },
        axisTick: { show: false, customValues: tickValues },
        axisLabel: {
          show: true,
          customValues: tickValues,
          margin: 10,
          fontSize: 18,
          fontFamily: AXIS_FONT,
          color: "#000000",
          formatter: (v: number) => v.toFixed(2),
        },
        splitLine: { show: false },
      },
      series: [
        {
          type: "line",
          data: [],
          silent: true,
          z: 1,
          markLine: {
            silent: true,
            z: 1,
            symbol: ["none", "none"],
            animation: false,
            label: { show: false },
            lineStyle: { color: "#c0c0c0", type: [4, 4], width: 1 },
            data: gridLines,
          },
        },
        {
          type: "candlestick",
          data: candleData,
          encode: { x: 0, y: [1, 2, 3, 4] },
          barWidth: 2,
          clip: false,
          silent: true,
          emphasis: { disabled: true },
          z: 5,
          itemStyle: {
            color: "#ffffff",
            color0: "#000000",
            borderColor: "#000000",
            borderColor0: "#000000",
            borderWidth: 1,
          },
          markLine: {
            silent: true,
            z: 2,
            symbol: ["none", "none"],
            animation: false,
            label: { show: false },
            data: [...levelLines, priceLine],
          },
          markPoint: {
            silent: true,
            z: 3,
            animation: false,
            data: [...levelTexts, ...tags],
          },
        },
      ],
      graphic: [
        {
          type: "polygon",
          shape: { points: [[9, 15], [20, 15], [14.5, 22]] },
          style: { fill: "#000000" },
        },
        {
          type: "text",
          x: 32,
          y: 18,
          style: { text: header, font: `18px ${AXIS_FONT}`, fill: "#000000", verticalAlign: "middle", align: "left" },
        },
        {
          type: "polygon",
          shape: { points: [[2016, 3], [2030, 3], [2023, 9]] },
          style: { fill: "#b0b0b0" },
        },
        {
          type: "polygon",
          shape: {
            points: [[173, 858], [173, 892], [181, 884], [187, 897], [191, 895], [185.6, 882.6], [196, 882.6]],
          },
          style: { fill: "#ffffff", stroke: "#000000", lineWidth: 1.5 },
        },
        {
          type: "image",
          x: 2149,
          y: 1599,
          style: { image: X_ICON, width: 40, height: 40 },
        },
        {
          type: "rect",
          shape: { x: 0, y: 1991, width: W, height: 5 },
          style: { fill: "#e8e8e8" },
        },
        {
          type: "rect",
          shape: { x: 3836, y: 0, width: 4, height: H },
          style: { fill: "#e8e8e8" },
        },
      ],
    });

    return () => chart.dispose();
  }, []);

  return (
    <>
      <style>{"#mt-chart svg path { shape-rendering: crispEdges; }"}</style>
      <div id="mt-chart" ref={ref} style={{ width: W, height: H }} />
    </>
  );
}
